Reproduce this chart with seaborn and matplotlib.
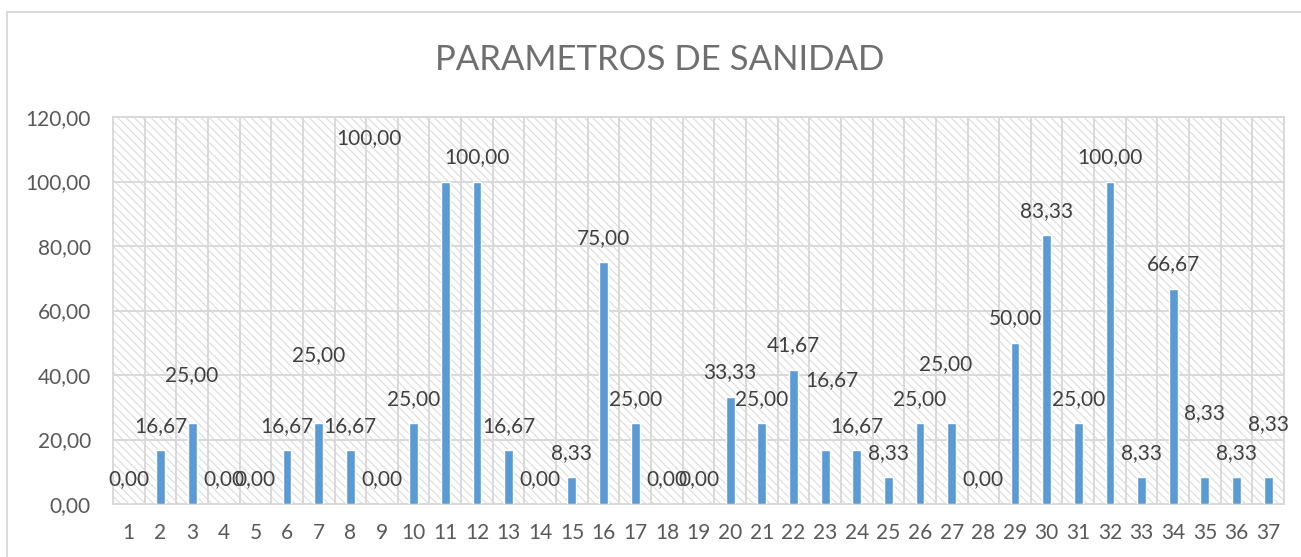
import matplotlib
matplotlib.use("Agg")
import matplotlib.pyplot as plt
import seaborn as sns
import pandas as pd
from matplotlib.ticker import FuncFormatter, MultipleLocator, FixedLocator
from matplotlib.patches import Rectangle

# data
parametros = [str(i) for i in range(1, 38)]
porcentaje = [0.00, 16.67, 25.00, 0.00, 0.00, 16.67, 25.00, 16.67, 0.00, 25.00,
              100.00, 100.00, 16.67, 0.00, 8.33, 75.00, 25.00, 0.00, 0.00, 33.33,
              25.00, 41.67, 16.67, 16.67, 8.33, 25.00, 25.00, 0.00, 50.00, 83.33,
              25.00, 100.00, 8.33, 66.67, 8.33, 8.33, 8.33]

# labels that Excel left out of their normal place: index -> (x, y of label centre)
moved_labels = {2: (2, 40.3), 6: (6, 46.5), 10: (7.6, 113.8), 22: (22.2, 38.8),
                26: (25.8, 43.7), 34: (34, 28.5), 36: (36, 25.1)}

df = pd.DataFrame({"parametro": parametros, "valor": porcentaje})

sns.set_theme(style="white")
plt.rcParams['font.family'] = ['Lato', 'DejaVu Sans']
plt.rcParams['hatch.color'] = '#dcdcdc'
plt.rcParams['hatch.linewidth'] = 0.8

BAR = '#5b9bd5'
GRID = '#d9d9d9'
TICK = '#595959'
LABEL = '#404040'


def coma(v, pos=None):
    return f"{v:.2f}".replace('.', ',')


fig = plt.figure(figsize=(13.01, 5.57), dpi=100)
ax = fig.add_axes([113 / 1301, 1 - 504 / 557, (1284 - 113) / 1301, (504 - 117) / 557])

# hatched plot area like the Excel pattern fill
ax.patch.set_facecolor('white')
ax.patch.set_edgecolor('#dcdcdc')
ax.patch.set_linewidth(0)
ax.patch.set_hatch('\\\\\\\\')

sns.barplot(data=df, x="parametro", y="valor", color=BAR, width=0.28,
            saturation=1, ax=ax, zorder=3)

ax.set_xlim(-0.5, len(parametros) - 0.5)
ax.set_ylim(0, 120)
ax.yaxis.set_major_locator(MultipleLocator(20))
ax.yaxis.set_major_formatter(FuncFormatter(coma))
ax.xaxis.set_minor_locator(FixedLocator([i - 0.5 for i in range(len(parametros) + 1)]))
ax.set_axisbelow(True)
ax.grid(True, axis='y', which='major', color=GRID, linewidth=1.4)
ax.grid(True, axis='x', which='minor', color=GRID, linewidth=1.4)
ax.grid(False, axis='x', which='major')
for s in ax.spines.values():
    s.set_color(GRID)
    s.set_linewidth(1.4)

ax.set_xlabel("")
ax.set_ylabel("")
ax.tick_params(axis='both', which='both', length=0, labelsize=15, labelcolor=TICK)
ax.tick_params(axis='y', pad=16)
ax.tick_params(axis='x', pad=14)

# data labels (the overlapping 0,00 pairs overlap in the original too)
for i, v in enumerate(porcentaje):
    if i in moved_labels:
        x, y = moved_labels[i]
        ax.annotate(coma(v), (x, y), xytext=(0, -5.4), textcoords='offset points',
                    ha='center', va='baseline', fontsize=15, color=LABEL, zorder=5)
    else:
        ax.annotate(coma(v), (i, v), xytext=(0, 13.3), textcoords='offset points',
                    ha='center', va='baseline', fontsize=15, color=LABEL, zorder=5)

fig.text(660 / 1301, 1 - 60 / 557, "PARAMETROS DE SANIDAD", ha='center', va='center',
         fontsize=25, color='#6f6f6f', fontweight='normal')

# chart border
fig.patches.append(Rectangle((7 / 1301, -0.1), 1.2, 1 - 12 / 557 + 0.1,
                             transform=fig.transFigure, fill=False,
                             edgecolor=GRID, linewidth=1.4))

fig.savefig("out.png", dpi=100)
